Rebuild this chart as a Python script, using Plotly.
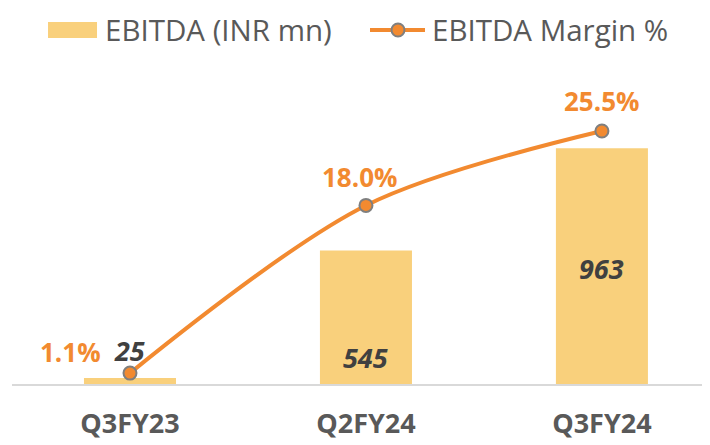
import plotly.graph_objects as go

# data
quarters = ['Q3FY23', 'Q2FY24', 'Q3FY24']
ebitda = [25, 545, 963]
margin = [1.1, 18.0, 25.5]

bar_color = '#F9D07C'
line_color = '#F28A30'
label_dark = '#404040'
text_gray = '#595959'
font_family = 'Open Sans, Noto Sans, sans-serif'

fig = go.Figure()

fig.add_trace(
    go.Bar(
        x=quarters,
        y=ebitda,
        name='EBITDA (INR mn)',
        marker=dict(color=bar_color, line=dict(width=0)),
        width=0.39,
        yaxis='y'
    )
)

fig.add_trace(
    go.Scatter(
        x=quarters,
        y=margin,
        name='EBITDA Margin %',
        mode='lines+markers',
        line=dict(color=line_color, width=4, shape='spline', smoothing=0.9),
        marker=dict(size=13, color=line_color, line=dict(color='#7F7F7F', width=2)),
        yaxis='y2'
    )
)

# bar labels (bold italic dark)
for i, (q, v) in enumerate(zip(quarters, ebitda)):
    if i == 0:
        y, ys = v, 27
    elif i == 1:
        y, ys = v * 0.2, 0
    else:
        y, ys = v * 0.49, 0
    fig.add_annotation(
        x=q, y=y, xref='x', yref='y', text=f'<b><i>{v}</i></b>',
        showarrow=False, yshift=ys,
        font=dict(size=27, color=label_dark, family=font_family)
    )

# margin labels (bold orange)
margin_shift = [(-59, 21), (-6, 28), (0, 30)]
for (q, m), (xs, ys) in zip(zip(quarters, margin), margin_shift):
    fig.add_annotation(
        x=q, y=m, xref='x', yref='y2', text=f'<b>{m:.1f}%</b>',
        showarrow=False, xshift=xs, yshift=ys,
        font=dict(size=26, color=line_color, family=font_family)
    )

# legend drawn by hand (wide swatch like the original)
fig.add_shape(type='rect', xref='paper', yref='paper',
              x0=0.0516, x1=0.1218, y0=1.1019, y1=1.1529,
              fillcolor=bar_color, line=dict(width=0))
fig.add_annotation(x=0.1304, y=1.1274, xref='paper', yref='paper',
                   xanchor='left', yanchor='middle', showarrow=False,
                   text='EBITDA (INR mn)',
                   font=dict(size=29.5, color=text_gray, family=font_family))
fig.add_shape(type='line', xref='paper', yref='paper',
              x0=0.5129, x1=0.5917, y0=1.1274, y1=1.1274,
              line=dict(color=line_color, width=4))
fig.add_shape(type='circle', xref='paper', yref='paper',
              x0=0.5437, x1=0.5623, y0=1.1067, y1=1.1481,
              fillcolor=line_color, line=dict(color='#7F7F7F', width=2))
fig.add_annotation(x=0.5989, y=1.1274, xref='paper', yref='paper',
                   xanchor='left', yanchor='middle', showarrow=False,
                   text='EBITDA Margin %',
                   font=dict(size=29.5, color=text_gray, family=font_family))

fig.update_layout(
    width=710,
    height=445,
    margin=dict(l=4, r=8, t=62, b=69),
    paper_bgcolor='white',
    plot_bgcolor='white',
    font=dict(family=font_family, color=text_gray),
    showlegend=False,
    bargap=0.61,
    xaxis=dict(
        type='category',
        range=[-0.5, 2.458],
        showgrid=False,
        showline=True,
        linecolor='#D9D9D9',
        linewidth=2,
        ticks='',
        ticklabelstandoff=15,
        tickfont=dict(size=27, color=text_gray, family=font_family),
        tickprefix='<b>', ticksuffix='</b>'
    ),
    yaxis=dict(
        range=[0, 1282],
        visible=False,
        showgrid=False,
        zeroline=False
    ),
    yaxis2=dict(
        range=[0, 31.65],
        overlaying='y',
        side='right',
        visible=False,
        showgrid=False,
        zeroline=False
    )
)

fig.write_html('out.html')
